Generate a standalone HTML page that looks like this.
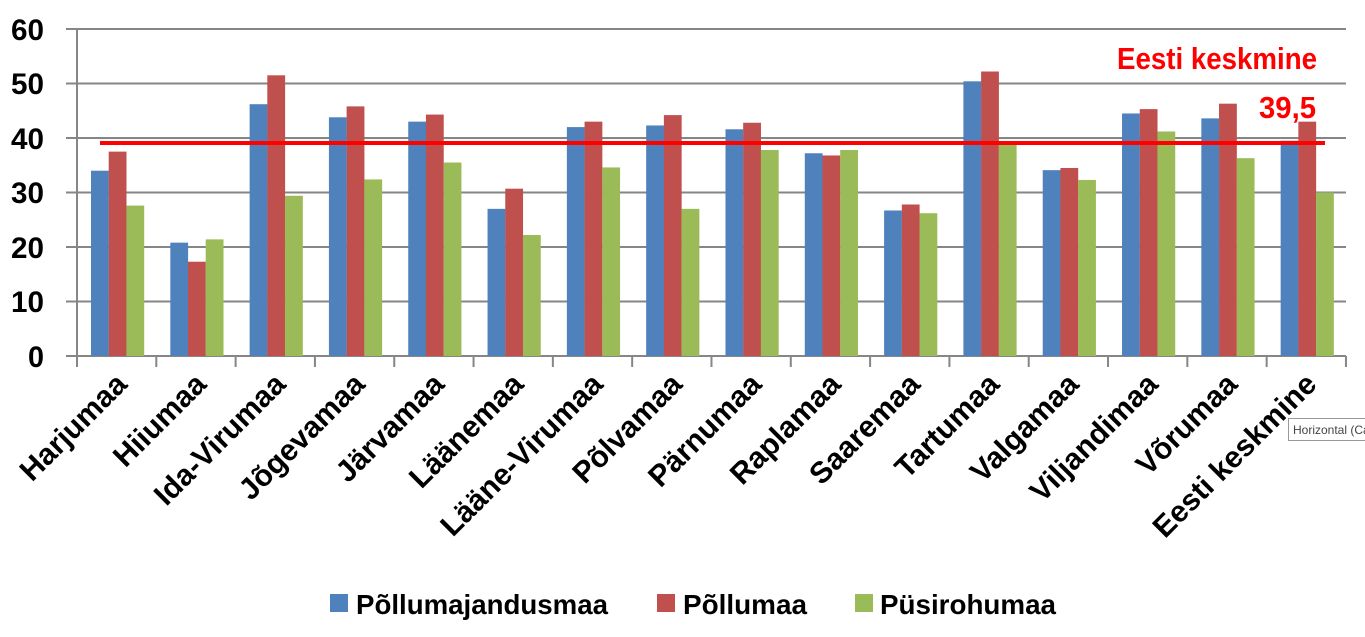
<!DOCTYPE html>
<html><head><meta charset="utf-8"><style>body{margin:0;background:#fff}svg{display:block}</style></head>
<body>
<svg width="1365" height="637" xmlns="http://www.w3.org/2000/svg" font-family="Liberation Sans, sans-serif">
<g stroke="#868686" stroke-width="2">
<line x1="66" y1="29" x2="1346" y2="29"/><line x1="66" y1="83.5" x2="1346" y2="83.5"/>
<line x1="66" y1="138" x2="1346" y2="138"/><line x1="66" y1="192.5" x2="1346" y2="192.5"/>
<line x1="66" y1="247" x2="1346" y2="247"/><line x1="66" y1="301.5" x2="1346" y2="301.5"/>
<line x1="66" y1="356" x2="1346" y2="356"/>
<line x1="77" y1="29" x2="77" y2="367"/>
</g>
<g id="ticks" stroke="#868686" stroke-width="2"></g>
<g id="bars"></g>
<g font-weight="bold" font-size="30" text-anchor="end" fill="#000">
<text x="44" y="40" textLength="33" lengthAdjust="spacingAndGlyphs">60</text><text x="44" y="94" textLength="33" lengthAdjust="spacingAndGlyphs">50</text><text x="44" y="149" textLength="33" lengthAdjust="spacingAndGlyphs">40</text>
<text x="44" y="203" textLength="33" lengthAdjust="spacingAndGlyphs">30</text><text x="44" y="258" textLength="33" lengthAdjust="spacingAndGlyphs">20</text><text x="44" y="312" textLength="33" lengthAdjust="spacingAndGlyphs">10</text><text x="44" y="367" textLength="16" lengthAdjust="spacingAndGlyphs">0</text>
</g>
<line x1="100" y1="143" x2="1325" y2="143" stroke="#ff0000" stroke-width="4"/>
<text x="1117" y="69" fill="#ff0000" font-weight="bold" font-size="31" textLength="200" lengthAdjust="spacingAndGlyphs">Eesti keskmine</text>
<text x="1259" y="118" fill="#ff0000" font-weight="bold" font-size="31" textLength="57" lengthAdjust="spacingAndGlyphs">39,5</text>
<g id="labels" font-weight="bold" font-size="30" text-anchor="end" fill="#000"></g>
<rect x="330" y="594" width="18" height="18" fill="#4f81bd"/>
<text x="356" y="614" font-weight="bold" font-size="28" textLength="252" lengthAdjust="spacingAndGlyphs">Põllumajandusmaa</text>
<rect x="657" y="594" width="18" height="18" fill="#c0504d"/>
<text x="683" y="614" font-weight="bold" font-size="28" textLength="124" lengthAdjust="spacingAndGlyphs">Põllumaa</text>
<rect x="855" y="594" width="18" height="18" fill="#9bbb59"/>
<text x="880" y="614" font-weight="bold" font-size="28" textLength="176" lengthAdjust="spacingAndGlyphs">Püsirohumaa</text>
<rect x="1288.5" y="418.5" width="80" height="22" fill="#fff" stroke="#999"/>
<text x="1293" y="434" font-size="12" fill="#444">Horizontal (Ca</text>
</svg>
<script>
var d=[["Harjumaa",34,37.5,27.6],["Hiiumaa",20.8,17.3,21.4],["Ida-Virumaa",46.2,51.5,29.4],["Jõgevamaa",43.8,45.8,32.4],["Järvamaa",43,44.3,35.5],["Läänemaa",27,30.7,22.2],["Lääne-Virumaa",42,43,34.6],["Põlvamaa",42.3,44.2,27],["Pärnumaa",41.6,42.8,37.8],["Raplamaa",37.2,36.8,37.8],["Saaremaa",26.7,27.8,26.2],["Tartumaa",50.4,52.2,39],["Valgamaa",34.1,34.5,32.3],["Viljandimaa",44.5,45.3,41.2],["Võrumaa",43.6,46.3,36.3],["Eesti keskmine",39.5,43,30]];
var ns="http://www.w3.org/2000/svg",c=["#4f81bd","#c0504d","#9bbb59"],W=79.31;
var B=document.getElementById("bars"),T=document.getElementById("ticks"),L=document.getElementById("labels");
for(var i=0;i<=16;i++){var l=document.createElementNS(ns,"line");var x=77+i*W;l.setAttribute("x1",x);l.setAttribute("x2",x);l.setAttribute("y1",356);l.setAttribute("y2",367);T.appendChild(l);}
d.forEach(function(r,i){var x0=77+i*W+14;
for(var k=0;k<3;k++){var h=r[k+1]*5.45;var e=document.createElementNS(ns,"rect");e.setAttribute("x",x0+k*17.7);e.setAttribute("width",17.8);e.setAttribute("y",356-h);e.setAttribute("height",h);e.setAttribute("fill",c[k]);B.appendChild(e);}
var t=document.createElementNS(ns,"text");var cx=77+i*W+W/2+12,cy=386;t.setAttribute("transform","translate("+cx+","+cy+") rotate(-45)");t.textContent=r[0];L.appendChild(t);});
</script>
</body></html>
